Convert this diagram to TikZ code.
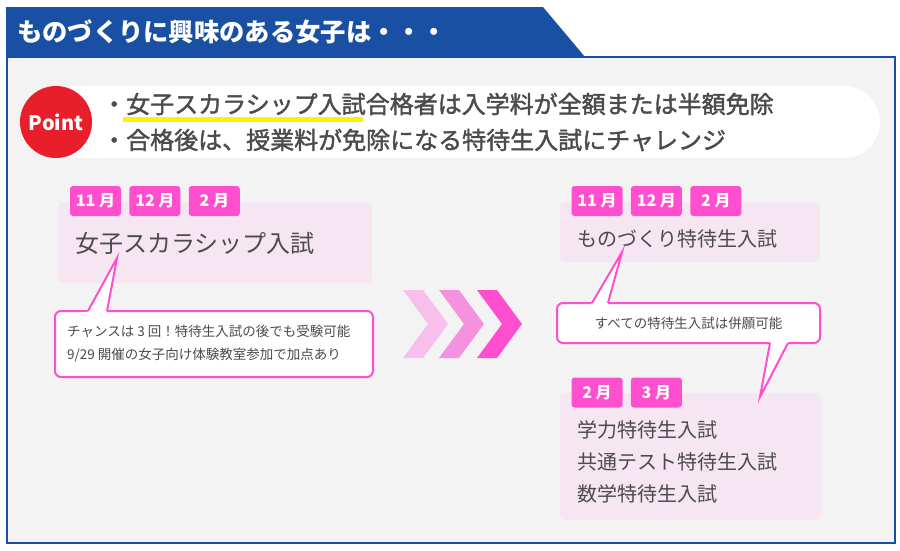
\documentclass[tikz,border=0pt]{standalone}
\usepackage{fontspec}
\setmainfont{Noto Sans CJK JP}
\newfontfamily\medfont[FakeBold=1.6]{Noto Sans CJK JP}
\usetikzlibrary{
  calc,
  positioning
}
\definecolor{hdblue}{HTML}{1A50A3}
\definecolor{bggray}{HTML}{F3F3F3}
\definecolor{txgray}{HTML}{4B4B4B}
\definecolor{hotpink}{HTML}{FF4FCF}
\definecolor{palepink}{HTML}{F6E6F1}
\definecolor{ptred}{HTML}{E81E2A}
\definecolor{hlyellow}{HTML}{FFF200}
\definecolor{chevA}{HTML}{F8BEEC}
\definecolor{chevB}{HTML}{F592E0}
\tikzset{
  node distance = 8pt,
  month/.style = {fill=hotpink, rounded corners=3pt, text=white, inner sep=0pt,
    minimum width=51pt, minimum height=30pt, font=\fontsize{16}{16}\selectfont\bfseries},
  exam/.style = {fill=palepink, rounded corners=5pt},
  txt/.style = {anchor=west, inner sep=0pt, text=txgray},
  bubble/.style = {draw=hotpink, line width=2pt, fill=white, rounded corners=6pt, inner sep=0pt, text=txgray},
}

\begin{document}
\begin{tikzpicture}[x=1pt, y=-1pt]
  \fill[white] (0,0) rectangle (900,550);
  \useasboundingbox (0,0) rectangle (900,550);
  \draw[hdblue, line width=2pt, fill=bggray] (7,57) rectangle (895,543);
  \fill[hdblue] (6,7) -- (543,7) -- (585,57) -- (6,57) -- cycle;
  \node[txt, text=white, font=\fontsize{25.3}{25.3}\selectfont\bfseries] (title) at (17,32) {ものづくりに興味のある女子は・・・};

  \node[fill=white, rounded corners=36pt, minimum width=860pt, minimum height=72pt] (pill) at (450,122) {};
  \node[circle, fill=ptred, minimum size=72pt, inner sep=0pt, text=white, font=\fontsize{20}{20}\selectfont\bfseries] (point) at (56,122) {Point};
  \fill[hlyellow] (123,117) rectangle (363,122);
  \node[txt, font=\fontsize{24}{24}\selectfont\medfont] (lineA) at (102,104) {・女子スカラシップ入試合格者は入学料が全額または半額免除};
  \node[txt, font=\fontsize{24}{24}\selectfont\medfont] (lineB) at (102,140) {・合格後は、授業料が免除になる特待生入試にチャレンジ};

  \node[exam, minimum width=314pt, minimum height=81pt] (scholar) at (215,242.5) {};
  \node[exam, minimum width=260pt, minimum height=60pt] (mono) at (690,232) {};
  \node[exam, minimum width=261pt, minimum height=127pt] (others) at (690.5,456.5) {};

  \node[txt, font=\fontsize{24}{24}\selectfont] (scholartext) at (75,243) {女子スカラシップ入試};
  \node[txt, font=\fontsize{20}{20}\selectfont] (monotext) at (577,239) {ものづくり特待生入試};
  \node[txt, align=left, font=\fontsize{20}{32}\selectfont] (otherstext) at (577,462) {学力特待生入試\\共通テスト特待生入試\\数学特待生入試};

  \node[month] (sA) at (95.5,201) {11 月};
  \node[month, right=of sA] (sB) {12 月};
  \node[month, right=of sB] (sC) {2 月};
  \node[month] (mA) at (597,201) {11 月};
  \node[month, right=of mA] (mB) {12 月};
  \node[month, right=of mB] (mC) {2 月};
  \node[month] (oA) at (597,392.5) {2 月};
  \node[month, right=of oA] (oB) {3 月};

  \foreach \x/\c in {403/chevA, 439/chevB, 477/hotpink}
    \fill[\c] (\x,290) -- ++(20,0) -- ++(25,34) -- ++(-25,34) -- ++(-20,0) -- ++(25,-34) -- cycle;

  \node[bubble, minimum width=318pt, minimum height=66pt] (chance) at (214,344) {};
  \node[txt, align=left, font=\fontsize{13.5}{23}\selectfont] (chancetext) at (67,343.5) {チャンスは 3 回！特待生入試の後でも受験可能\\9/29 開催の女子向け体験教室参加で加点あり};
  \node[bubble, minimum width=263pt, minimum height=40pt, font=\fontsize{13.5}{13.5}\selectfont] (heigan) at (688.5,323) {すべての特待生入試は併願可能};

  \foreach \tx/\ty/\lx/\ly/\rx/\ry in {117/258/88/311/107/311, 622/252/592/303/608/303, 760/397/770/343/788/343} {
    \fill[white] (\tx,\ty) -- ($(\tx,\ty)!1.04!(\lx,\ly)$) -- ($(\tx,\ty)!1.04!(\rx,\ry)$) -- cycle;
    \draw[hotpink, line width=2pt] (\lx,\ly) -- (\tx,\ty) -- (\rx,\ry);
  }
\end{tikzpicture}
\end{document}
